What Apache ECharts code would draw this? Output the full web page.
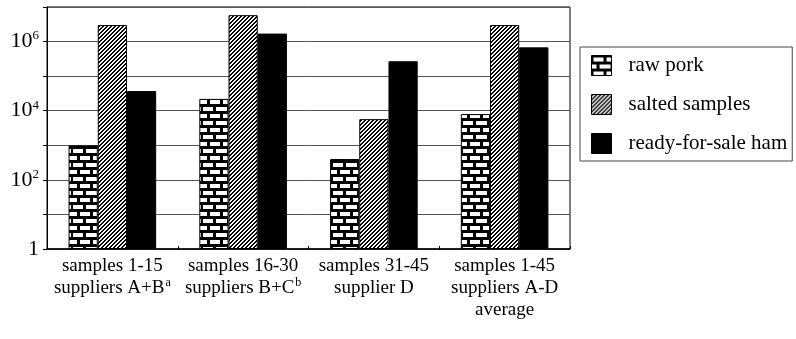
<!DOCTYPE html>
<html>
<head>
<meta charset="utf-8">
<script src="https://cdn.jsdelivr.net/npm/echarts@6/dist/echarts.min.js"></script>
<style>
html,body{margin:0;padding:0;background:#fff;}
#c{width:796px;height:339px;}
</style>
</head>
<body>
<div id="c"></div>
<script>
// ---- data ----
var categories = [
  'samples 1-15\nsuppliers A+B{s|a}',
  'samples 16-30\nsuppliers B+C{s|b}',
  'samples 31-45\nsupplier D',
  'samples 1-45\nsuppliers A-D\naverage'
];
var seriesNames = ['raw pork', 'salted samples', 'ready-for-sale ham'];
var rawPork = [1000, 22000, 400, 8000];
var saltedSamples = [3000000, 5800000, 5700, 3000000];
var readyHam = [37000, 1700000, 270000, 680000];
var yTickExponents = [0, 2, 4, 6];

// ---- patterns ----
function brickPattern() {
  var c = document.createElement('canvas');
  c.width = 26; c.height = 14;
  var g = c.getContext('2d');
  g.fillStyle = '#000'; g.fillRect(0, 0, 26, 14);
  g.fillStyle = '#fff';
  g.fillRect(2, 2, 10, 4);
  g.fillRect(15, 2, 10, 4);
  g.fillRect(8, 9, 11, 4);
  g.fillRect(21, 9, 5, 4);
  g.fillRect(0, 9, 5, 4);
  return c;
}
function hatchPattern() {
  var c = document.createElement('canvas');
  c.width = 8; c.height = 8;
  var g = c.getContext('2d');
  var img = g.createImageData(8, 8);
  for (var y = 0; y < 8; y++) {
    for (var x = 0; x < 8; x++) {
      var on = ((x + y) % 4) < 2;
      var i = (y * 8 + x) * 4;
      var v = on ? 0 : 255;
      img.data[i] = v; img.data[i + 1] = v; img.data[i + 2] = v; img.data[i + 3] = 255;
    }
  }
  g.putImageData(img, 0, 0);
  return c;
}

var font = '"Liberation Serif", "Times New Roman", serif';
var chart = echarts.init(document.getElementById('c'), null, {renderer: 'canvas'});

var barStyle = function (color) {
  return { color: color, borderColor: '#000', borderWidth: 1 };
};

chart.setOption({
  animation: false,
  backgroundColor: '#fff',
  grid: {
    left: 47, right: 226, top: 7, bottom: 90,
    show: true, borderColor: '#000', borderWidth: 1, backgroundColor: 'transparent'
  },
  legend: {
    orient: 'vertical',
    left: 580, top: 47,
    padding: [8, 5, 7, 11],
    itemGap: 18,
    itemWidth: 20, itemHeight: 20,
    borderColor: '#444', borderWidth: 1,
    icon: 'rect',
    itemStyle: { borderColor: '#000', borderWidth: 1 },
    textStyle: { fontFamily: font, fontSize: 21, lineHeight: 20, color: '#000', padding: [0, 0, 0, 12] },
    data: seriesNames
  },
  xAxis: {
    type: 'category',
    data: categories,
    axisLine: { lineStyle: { color: '#000', width: 1.5 } },
    axisTick: { show: true, inside: true, length: 3, lineStyle: { color: '#000' } },
    axisLabel: {
      interval: 0,
      margin: 6,
      fontFamily: font, fontSize: 19, color: '#000', lineHeight: 22,
      rich: {
        s: { fontFamily: font, fontSize: 12, lineHeight: 22, verticalAlign: 'top', padding: [0, 0, 11, 1], color: '#000' }
      }
    }
  },
  yAxis: {
    type: 'log',
    logBase: 10,
    min: 1, max: 10000000,
    axisLine: { show: true, lineStyle: { color: '#000', width: 1 } },
    axisTick: { show: true, length: 4, lineStyle: { color: '#000' } },
    splitLine: { show: true, lineStyle: { color: '#555', width: 1 } },
    axisLabel: {
      margin: 8,
      fontFamily: font, fontSize: 22, color: '#000',
      formatter: function (v) {
        var e = Math.round(Math.log(v) / Math.LN10);
        if (yTickExponents.indexOf(e) < 0) return '';
        if (e === 0) return '1';
        return '10{s|' + e + '}';
      },
      rich: {
        s: { fontFamily: font, fontSize: 13, verticalAlign: 'top', padding: [0, 0, 11, 0], color: '#000' }
      }
    }
  },
  series: [
    { name: seriesNames[0], type: 'bar', data: rawPork, barGap: '0%', barCategoryGap: '33%',
      itemStyle: barStyle({ image: brickPattern(), repeat: 'repeat' }) },
    { name: seriesNames[1], type: 'bar', data: saltedSamples, barGap: '0%', barCategoryGap: '33%',
      itemStyle: barStyle({ image: hatchPattern(), repeat: 'repeat' }) },
    { name: seriesNames[2], type: 'bar', data: readyHam, barGap: '0%', barCategoryGap: '33%',
      itemStyle: barStyle('#000') }
  ]
});
</script>
</body>
</html>
